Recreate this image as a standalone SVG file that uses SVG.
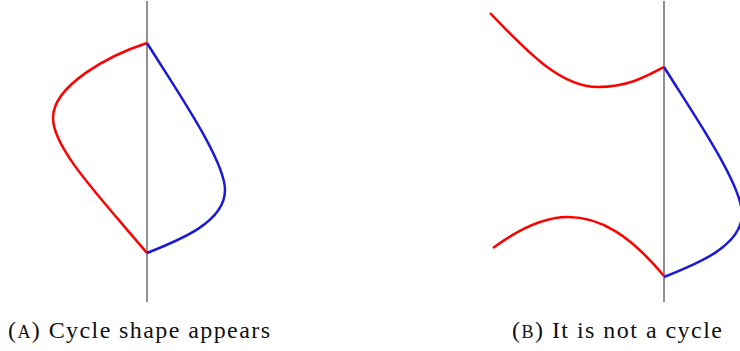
<svg xmlns="http://www.w3.org/2000/svg" width="740" height="351" viewBox="0 0 740 351">
<style>
.axis{stroke:#555;stroke-width:1.3;fill:none}
.red{stroke:#f00;stroke-width:2.5;fill:none}
.blue{stroke:#1a1ad6;stroke-width:2.5;fill:none}
.lbl{font-family:"Liberation Serif",serif;font-size:24px;fill:#111}
</style>
<rect width="740" height="351" fill="#fff"/>
<defs>
<path id="bl" d="M147,43 C175,88 225,160 225,190 C225,222 180,240 147,253"/>
</defs>
<g id="panelA">
<line class="axis" x1="147" y1="1" x2="147" y2="302"/>
<path class="red" d="M147,43 C110,55 53,85 53,118 C53,148 98,195 147,253"/>
<use href="#bl" class="blue"/>
<text class="lbl" x="8" y="338" textLength="262" lengthAdjust="spacing">(<tspan font-size="18">A</tspan>) Cycle shape appears</text>
</g>
<g id="panelB">
<line class="axis" x1="664" y1="1" x2="664" y2="302"/>
<path class="red" d="M490,13 C530,55 562,87 598,87 C628,87 647,76 664,67"/>
<path class="red" d="M493,248 C520,228 545,217 568,217 C600,217 630,235 664,276"/>
<use href="#bl" class="blue" transform="translate(517,24)"/>
<text class="lbl" x="512" y="338" textLength="210" lengthAdjust="spacing">(<tspan font-size="18">B</tspan>) It is not a cycle</text>
</g>
</svg>
